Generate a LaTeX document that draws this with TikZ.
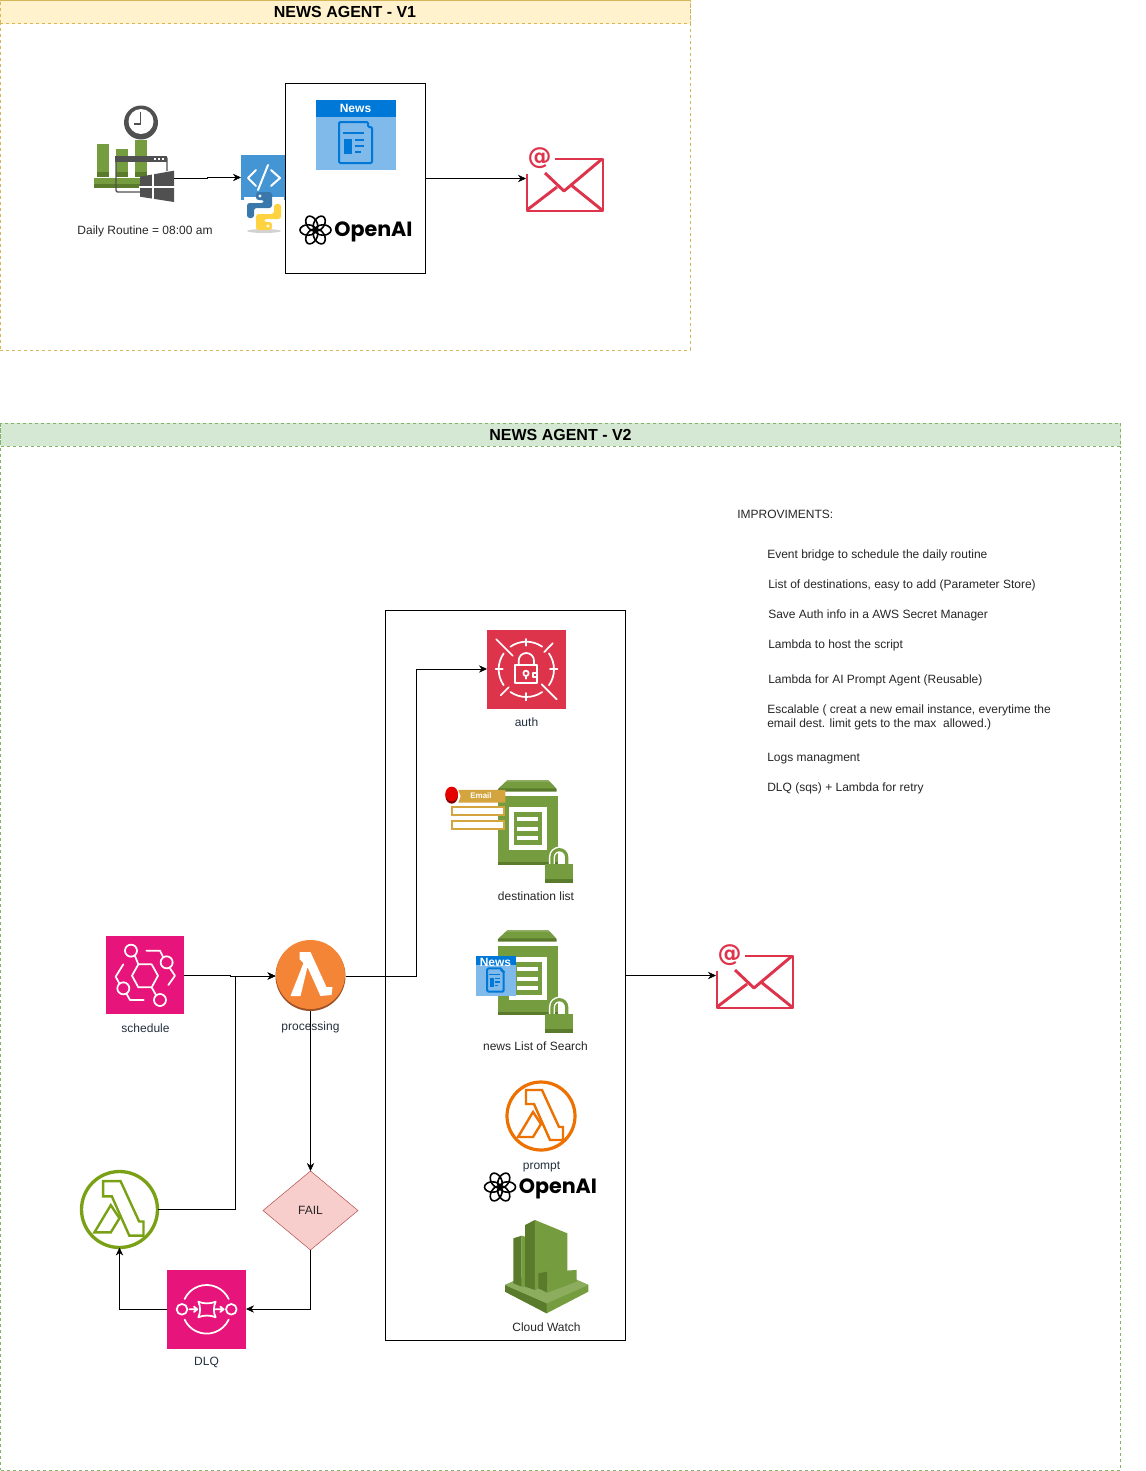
\documentclass[tikz,border=0pt]{standalone}
\usepackage{fontspec}
\setmainfont{Liberation Sans}
\newfontfamily\logofont{Poppins}
\newfontfamily\atfont{DejaVu Sans}
\usetikzlibrary{arrows.meta,shapes.geometric}

\definecolor{awspink}{HTML}{E7157B}
\definecolor{awsred}{HTML}{DD344C}
\definecolor{awsorange}{HTML}{ED7100}
\definecolor{lamorange}{HTML}{F58536}
\definecolor{lamdark}{HTML}{9D5025}
\definecolor{awslime}{HTML}{7AA116}
\definecolor{docgreen}{HTML}{759C3E}
\definecolor{docdark}{HTML}{5A7B2C}
\definecolor{doclight}{HTML}{8CAD5E}
\definecolor{newsblue}{HTML}{0078D7}
\definecolor{newslight}{HTML}{7FBAEA}
\definecolor{codeblue}{HTML}{4495D4}
\definecolor{wingray}{HTML}{505050}
\definecolor{labelgray}{HTML}{232F3E}
\definecolor{tagyellow}{HTML}{D4A43F}
\definecolor{headyellow}{HTML}{FFF2CC}
\definecolor{lineyellow}{HTML}{D6B656}
\definecolor{headgreen}{HTML}{D5E8D4}
\definecolor{linegreen}{HTML}{82B366}
\definecolor{failfill}{HTML}{F8CECC}
\definecolor{failline}{HTML}{B85450}
\definecolor{pyblue}{HTML}{3A78AB}
\definecolor{pyyellow}{HTML}{FFD23F}

\tikzset{
    flow/.style={-{Stealth[length=6pt,width=5.5pt]},black},
    lane/.style={draw=#1,dashed,dash pattern=on 2.25pt off 2.25pt,inner sep=0pt,outer sep=0pt},
    iconbox/.style={minimum size=#1*0.75pt,inner sep=0pt,outer sep=0pt},
    plainbox/.style={draw=black,inner sep=0pt,outer sep=0pt},
    iconlabel/.style={font=\fontsize{9}{11}\selectfont,text=labelgray,inner sep=0pt,text height=6.5pt,text depth=1.9pt,yshift=-0.75pt},
    note/.style={font=\fontsize{9}{10.5}\selectfont,text=black!85,anchor=west,align=left,inner sep=0pt,yshift=-1.1pt},
    glyph/.style={white,line width=1.3pt,line cap=round,line join=round},
}

\newcommand{\mailicon}[3]{
    \begin{scope}[shift={(#1,#2)},awsred,line width=2.2pt,line join=round]
        \draw (1,16) -- (1,53) -- (77,53) -- (77,1) -- (29,1);
        \draw (19,15) -- (38,33) -- (76,1);
        \draw (1,52) -- (31,29);
        \draw (76,52) -- (45,27);
        \node (#3at) [inner sep=0pt,text=awsred,font=\fontsize{18}{20}\selectfont\atfont\bfseries] at (13.5,0.5) {@};
    \end{scope}
}
\newcommand{\newsicon}[6]{
    \begin{scope}[shift={(#1,#2)},xscale=#3/80,yscale=#4/70]
        \fill[newslight] (0,0) rectangle (80,70);
        \fill[newsblue] (0,0) rectangle (80,17);
        \draw[newsblue,line width=1.5pt,fill=newslight,rounded corners=1pt] (23,22) -- (52,22) -- (52,27) -- (56,27) -- (56,63) -- (23,63) -- cycle;
        \draw[newsblue,line width=1.1pt] (27,33) -- (48,33);
        \fill[newsblue] (28,39) rectangle (36,54);
        \draw[newsblue,line width=1.1pt] (39,40) -- (48,40) (39,46) -- (48,46) (39,52) -- (45,52);
        \node (#5) [inner sep=0pt,text=white,font=\fontsize{9}{10}\selectfont\bfseries] at (39.5,#6) {News};
    \end{scope}
}
\newcommand{\openailogo}[3]{
    \begin{scope}[shift={(#1,#2)}]
        \foreach \a in {0,60,...,300}
            \draw[black,line width=1.2pt,rotate=\a] (7.5,0) ellipse (8 and 5.2);
        \node (#3) [anchor=west,inner sep=0pt,font=\fontsize{15.5}{18}\selectfont\logofont\bfseries] at (18.5,1.5) {OpenAI};
    \end{scope}
}
\newcommand{\lambdaline}[4]{
    \begin{scope}[shift={(#1,#2)},scale=#3,#4,line width=1.8pt,line join=miter]
        \draw (-15,-26) -- (1,-26) -- (18,11) -- (22,11) -- (22,24) -- (9,24) -- (-7,-12) -- (-15,-12) -- cycle;
        \draw (-8,-4) -- (-23,21) -- (-8,21) -- (0,8) -- cycle;
    \end{scope}
}
\newcommand{\secretdoc}[1]{
    \begin{scope}[shift={(430,620+#1)},scale=0.3333]
        \fill[docdark] (232,481) -- (355,481) -- (380,507) -- (380,515) -- (204,515) -- (204,507) -- cycle;
        \fill[doclight] (232,481) -- (355,481) -- (360,486) -- (227,486) -- cycle;
        \fill[docgreen] (227,486) -- (360,486) -- (376,505) -- (208,505) -- cycle;
        \fill[docgreen] (204,528) rectangle (384,728);
        \fill[docdark] (204,725) rectangle (384,735);
        \fill[white] (238,562) rectangle (350,690);
        \fill[docgreen] (252,576) rectangle (336,676);
        \fill[white] (262,591) rectangle (325,603);
        \fill[white] (262,620) rectangle (325,632);
        \fill[white] (262,649) rectangle (325,661);
        \draw[white,line width=4.5pt] (366,735) -- (366,711) arc (180:360:22) -- (410,735);
        \draw[docgreen,line width=2.4pt] (366,735) -- (366,711) arc (180:360:22) -- (410,735);
        \fill[docgreen] (346,732) rectangle (429,780);
        \fill[docdark] (346,778) rectangle (429,788);
    \end{scope}
}

\begin{document}
\begin{tikzpicture}[x=0.75pt,y=-0.75pt]
    \useasboundingbox (0,0) rectangle (1146,1471);

    % first version
    \node (laneone) [lane=lineyellow,minimum width=690*0.75pt,minimum height=350*0.75pt] at (345,175) {};
    \node (headone) [lane=lineyellow,fill=headyellow,minimum width=690*0.75pt,minimum height=23*0.75pt,font=\fontsize{12}{14}\selectfont\bfseries] at (345,12) {NEWS AGENT - V1};

    % task scheduler
    \fill[docgreen] (97,144) rectangle (109,172);
    \fill[docgreen] (116,149) rectangle (128,172);
    \fill[docgreen] (135,140) rectangle (147,172);
    \fill[docdark] (97,172) rectangle (109,177);
    \fill[docdark] (116,172) rectangle (128,177);
    \fill[docdark] (135,172) rectangle (147,177);
    \fill[docgreen] (94,178) rectangle (150,184);
    \fill[docdark] (94,184) rectangle (150,188);
    \fill[wingray] (141,122.5) circle (17);
    \fill[white] (141,121.5) circle (12.5);
    \draw[wingray,line width=1.4pt] (140.5,112) -- (140.5,124) -- (134,124);
    \node (winicon) [inner sep=0pt,outer sep=0pt,minimum width=59*0.75pt,minimum height=47*0.75pt] at (144.5,178.5) {};
    \draw[wingray,line width=1.1pt,rounded corners=1pt] (167,171) -- (167,157) -- (116,157) -- (116,192) -- (140,192);
    \fill[wingray] (115,156) rectangle (167,162);
    \fill[white] (154,158) rectangle (156,160);
    \fill[white] (158,158) rectangle (160,160);
    \fill[white] (162,158) rectangle (164,160);
    \fill[wingray] (140,176.7) -- (174,170.7) -- (174,202) -- (140,196.7) -- cycle;
    \draw[white,line width=0.8pt] (153,173) -- (153,201) (139,187) -- (175,187);
    \node (routine) [iconlabel,text=black!85] at (145,230) {Daily Routine = 08:00 am};

    % script
    \node (codebox) [inner sep=0pt,outer sep=0pt,minimum width=45*0.75pt,minimum height=45*0.75pt] at (263.5,177.5) {};
    \fill[codeblue] (241,155) rectangle (286,200);
    \fill[white] (243.5,197) rectangle (284,201);
    \draw[glyph,line width=1.5pt] (256,170) -- (248,178) -- (256,186);
    \draw[glyph,line width=1.5pt] (271,170) -- (280,178) -- (271,186);
    \draw[glyph,line width=1.5pt] (268,165) -- (258,190);
    \begin{scope}[shift={(264,211)}]
        \fill[gray!35] (0,20) ellipse (17 and 2);
        \fill[pyyellow,rounded corners=2pt] (8,19) -- (-8,19) -- (-8,3) -- (10,3) -- (10,-7) -- (17,-7) -- (17,8) -- (0,8) -- (0,11) -- (8,11) -- cycle;
        \fill[pyblue,rounded corners=2pt] (-8,-19) -- (8,-19) -- (8,-3) -- (-10,-3) -- (-10,7) -- (-17,7) -- (-17,-8) -- (0,-8) -- (0,-11) -- (-8,-11) -- cycle;
        \fill[white] (-4,-15) circle (1.7);
        \fill[white] (4,15) circle (1.7);
    \end{scope}

    % news and openai
    \node (newsbox) [plainbox,minimum width=140*0.75pt,minimum height=190*0.75pt] at (355.5,178.5) {};
    \newsicon{316}{100}{80}{70}{newsone}{8}
    \openailogo{315.5}{230}{openaione}

    \node (mailone) [iconbox=78,minimum height=67*0.75pt] at (565,178.5) {};
    \mailicon{526}{158}{mailone}

    \draw[flow] (winicon.east) -- (207,178.5) |- (codebox.west);
    \draw[flow] (newsbox.east) -- (mailone.west);

    % second version
    \node (lanetwo) [lane=linegreen,minimum width=1120*0.75pt,minimum height=1047*0.75pt] at (560.5,946.5) {};
    \node (headtwo) [lane=linegreen,fill=headgreen,minimum width=1120*0.75pt,minimum height=23*0.75pt,font=\fontsize{12}{14}\selectfont\bfseries] at (560.5,434.5) {NEWS AGENT - V2};

    \node (impro) [note] at (737,512.5) {IMPROVIMENTS:};
    \node (noteone) [note] at (767,553.5) {Event bridge to schedule the daily routine};
    \node (notetwo) [note] at (768,583.5) {List of destinations, easy to add (Parameter Store)};
    \node (notethree) [note] at (768,613.5) {Save Auth info in a AWS Secret Manager};
    \node (notefour) [note] at (768,643.5) {Lambda to host the script};
    \node (notefive) [note] at (768,678.5) {Lambda for AI Prompt Agent (Reusable)};
    \node (notesix) [note] at (767,715.5) {Escalable ( creat a new email instance, everytime the\\email dest. limit gets to the max\ \ allowed.)};
    \node (noteseven) [note] at (767,757.5) {Logs managment};
    \node (noteeight) [note] at (767,786.5) {DLQ (sqs) + Lambda for retry};

    % services box
    \node (svcbox) [plainbox,minimum width=240*0.75pt,minimum height=730*0.75pt] at (505.5,975.5) {};

    % auth
    \node (auth) [iconbox=79,fill=awsred] at (526.5,669) {};
    \begin{scope}[shift={(430,620)},scale=0.3333,glyph]
        \foreach \a in {55,145,235,325}
            \draw (289,148)+(\a:83) arc (\a:\a+70:83);
        \draw (289,57) -- (289,77) (289,219) -- (289,241) (197,148) -- (218,148) (360,148) -- (382,148);
        \draw (199,58) -- (248,107) (368,70) -- (343,96) (212,226) -- (236,202) (380,238) -- (335,193);
        \draw (255,135) rectangle (322,190);
        \draw (266,135) -- (266,122) arc (180:360:23) -- (312,135);
        \draw (288,160) circle (8);
        \draw (288,168) -- (288,176);
        \draw (322,158) -- (310,158) -- (310,172) -- (322,172);
    \end{scope}
    \node (authlabel) [iconlabel] at (526.5,722) {auth};

    % destination list
    \secretdoc{0}
    \begin{scope}[shift={(430,620)},scale=0.3333]
        \fill[red!50!black] (65,527) ellipse (19 and 24);
        \fill[red!90!black] (65,522) ellipse (19 and 22);
        \fill[tagyellow] (85,510) -- (226,510) -- (226,548) -- (85,548) -- (92,529) -- cycle;
        \node (emailtag) [inner sep=0pt,text=white,font=\fontsize{6}{7}\selectfont\bfseries] at (153,527) {Email};
        \draw[tagyellow,fill=white,line width=1.5pt] (67,560) rectangle (223,584);
        \draw[tagyellow,fill=white,line width=1.5pt] (67,602) rectangle (223,626);
    \end{scope}
    \node (destlabel) [iconlabel,text=black!85] at (536,896) {destination list};

    % news list
    \secretdoc{150}
    \newsicon{475.7}{955.7}{40}{40}{newstwo}{12}
    \node (searchlabel) [iconlabel,text=black!85] at (535.5,1046) {news List of Search};

    % prompt
    \node (prompt) [iconbox=68,circle,draw=awsorange,line width=2.4pt] at (541,1116) {};
    \lambdaline{541}{1116}{1}{draw=awsorange}
    \node (promptlabel) [iconlabel] at (541.5,1165) {prompt};
    \openailogo{500}{1187}{openaitwo}

    % cloud watch
    \begin{scope}[shift={(470,1070)},scale=0.3333]
        \fill[docgreen] (105,645) -- (230,590) -- (355,645) -- (355,665) -- (230,730) -- (105,665) -- cycle;
        \fill[docdark] (105,645) -- (230,700) -- (230,730) -- (105,665) -- cycle;
        \fill[doclight] (105,645) -- (160,620) -- (300,620) -- (355,645) -- (230,700) -- cycle;
        \fill[docdark] (130,505) -- (155,497) -- (155,650) -- (130,640) -- cycle;
        \fill[docgreen] (155,497) -- (165,500) -- (165,650) -- (155,650) -- cycle;
        \fill[docdark] (165,465) -- (195,450) -- (195,660) -- (165,650) -- cycle;
        \fill[docgreen] (195,450) -- (292,490) -- (292,620) -- (195,660) -- cycle;
        \fill[docdark] (205,610) -- (232,605) -- (232,668) -- (205,655) -- cycle;
        \fill[docgreen] (232,605) -- (320,600) -- (320,635) -- (232,668) -- cycle;
    \end{scope}
    \node (watchlabel) [iconlabel,text=black!85] at (546.5,1327) {Cloud Watch};

    \node (mailtwo) [iconbox=78,minimum height=67*0.75pt] at (755,975.5) {};
    \mailicon{716}{955}{mailtwo}

    % schedule
    \node (schedule) [iconbox=78,fill=awspink] at (145,975) {};
    \begin{scope}[shift={(70,930)},scale=0.3333,glyph]
        \draw (205,103) -- (245,103) -- (264,137) -- (245,172) -- (205,172) -- (186,137) -- cycle;
        \draw (183,62) circle (18) (290,97) circle (18) (160,175) circle (18) (270,210) circle (18);
        \draw (195,78) -- (205,103) (245,172) -- (258,195);
        \draw (229,62) -- (270,62) -- (280,82);
        \draw (300,115) -- (315,137) -- (295,165);
        \draw (160,103) -- (137,140) -- (148,160);
        \draw (170,192) -- (180,210) -- (221,210);
    \end{scope}
    \node (schedlabel) [iconlabel] at (145.5,1028) {schedule};

    % processing
    \node (processing) [iconbox=70,circle,fill=lamdark] at (310.5,976) {};
    \fill[lamorange] (310.5,974.5) circle (34.5);
    \fill[white] (310.5,976) ++(-11,-24) -- ++(11,0) -- ++(16,35) -- ++(6,0) -- ++(-1,8) -- ++(-11,1) -- ++(-13,-29) -- ++(-7,29) -- ++(-10,0) -- ++(13,-33) -- ++(-4,-4) -- cycle;
    \node (proclabel) [iconlabel] at (310.5,1026) {processing};

    % retry path
    \node (fail) [diamond,aspect=1.2,draw=failline,fill=failfill,minimum width=95*0.75pt,minimum height=79*0.75pt,inner sep=0pt,outer sep=0pt,font=\fontsize{9}{11}\selectfont,text=black!85] at (310.5,1210.5) {FAIL};
    \node (dlq) [iconbox=79,fill=awspink] at (206.5,1309) {};
    \begin{scope}[shift={(70,930)},scale=0.3333,glyph]
        \draw (410,1138)+(205:73) arc (205:335:73);
        \draw (410,1138)+(25:73) arc (25:155:73);
        \draw (336,1138) circle (16) (484,1138) circle (16);
        \draw (385,1115) .. controls (400,1122) and (422,1122) .. (437,1115) .. controls (430,1130) and (430,1148) .. (437,1162) .. controls (422,1155) and (400,1155) .. (385,1162) .. controls (392,1148) and (392,1130) .. (385,1115) -- cycle;
        \draw (358,1138) -- (382,1138) (372,1130) -- (382,1138) -- (372,1146);
        \draw (437,1138) -- (461,1138) (451,1130) -- (461,1138) -- (451,1146);
    \end{scope}
    \node (dlqlabel) [iconlabel] at (206.5,1361.5) {DLQ};
    \node (retry) [iconbox=76,circle,draw=awslime,line width=2.5pt] at (119.5,1209.5) {};
    \lambdaline{119.5}{1209.5}{1.09}{draw=awslime}

    \coordinate (jogauth) at (416,976);
    \coordinate (jogretry) at (235.5,976);
    \draw[flow] (schedule.east) -- (230,975) |- (processing.west);
    \draw[flow] (retry.east) -| (jogretry) -- (processing.west);
    \draw[flow] (processing.east) -| (jogauth) |- (auth.west);
    \draw[flow] (processing.south) -- (fail.north);
    \draw[flow] (fail.south) |- (dlq.east);
    \draw[flow] (dlq.west) -| (retry.south);
    \draw[flow] (svcbox.east) -- (mailtwo.west);
\end{tikzpicture}
\end{document}
